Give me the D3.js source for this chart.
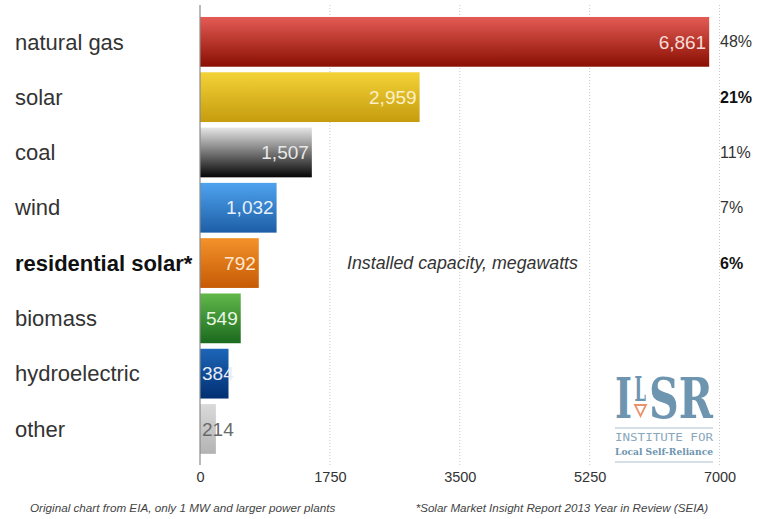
<!DOCTYPE html>
<html><head><meta charset="utf-8">
<script src="https://cdn.jsdelivr.net/npm/d3@7/dist/d3.min.js"></script>
<style>body{margin:0;background:#fff}svg{display:block}</style>
</head><body>
<svg id="chart" width="774" height="519"></svg>
<script>
const categories = ["natural gas","solar","coal","wind","residential solar*","biomass","hydroelectric","other"];
const values = [6861,2959,1507,1032,792,549,384,214];
const valueLabels = ["6,861","2,959","1,507","1,032","792","549","384","214"];
const shares = ["48%","21%","11%","7%","6%","","",""];
const boldRows = ["residential solar*"];
const boldShares = ["solar","residential solar*"];
const ticks = [0,1750,3500,5250,7000];

const gradTop = ["#e45b55","#f3d237","#e6e6e6","#4ea3ef","#f4922a","#62b84a","#1d66b8","#dadada"];
const gradBot = ["#8a0f02","#c69c0e","#050505","#1d5ea6","#c65a05","#1b6a1f","#022f72","#b3b3b3"];
const labelFill = ["#f6dcd8","#fbf0c8","#e8e8e8","#e8f0fa","#fde8d0","#eaf6e4","#e6ecf6","#6a6a6a"];

const svg = d3.select("#chart");
const x = d3.scaleLinear().domain([0,7000]).range([200,719.5]);
const y = d3.scaleBand().domain(categories).range([14.2,456.6]).paddingInner(0.1).paddingOuter(0.05);
const font = "'Liberation Sans', Arial, Helvetica, sans-serif";

const defs = svg.append("defs");
categories.forEach((c,i)=>{
  const g = defs.append("linearGradient").attr("id","g"+i).attr("x1",0).attr("y1",0).attr("x2",0).attr("y2",1);
  g.append("stop").attr("offset","0%").attr("stop-color",gradTop[i]);
  g.append("stop").attr("offset","100%").attr("stop-color",gradBot[i]);
});

// gridlines
svg.append("g").selectAll("line").data(ticks.slice(1)).join("line")
  .attr("x1",d=>x(d)).attr("x2",d=>x(d)).attr("y1",5).attr("y2",465)
  .attr("stroke","#c8c8c8").attr("stroke-width",1).attr("stroke-dasharray","1,2");

// bars
svg.append("g").selectAll("rect").data(categories).join("rect")
  .attr("x",x(0)).attr("y",d=>y(d))
  .attr("width",(d,i)=>x(values[i])-x(0)).attr("height",y.bandwidth())
  .attr("fill",(d,i)=>`url(#g${i})`);

// axis line
svg.append("line").attr("x1",x(0)).attr("x2",x(0)).attr("y1",5).attr("y2",465)
  .attr("stroke","#8a8a8a").attr("stroke-width",1.2);

// tick labels
const xAxis = d3.axisBottom(x).tickValues(ticks).tickSize(0).tickPadding(0).tickFormat(d3.format("d"));
const ax = svg.append("g").attr("transform","translate(0,469)").call(xAxis);
ax.select(".domain").remove();
ax.selectAll("text").attr("font-family",font).attr("font-size",14.5).attr("fill","#333").attr("dy","0.9em");

// category labels
svg.append("g").selectAll("text").data(categories).join("text")
  .attr("x",15).attr("y",d=>y(d)+y.bandwidth()/2).attr("dy","0.35em")
  .attr("font-family",font).attr("font-size",22)
  .attr("font-weight",d=>boldRows.includes(d)?"bold":"normal")
  .attr("fill",d=>boldRows.includes(d)?"#111":"#333")
  .text(d=>d);

// value labels
svg.append("g").selectAll("text").data(categories).join("text")
  .each(function(d,i){
    const w = x(values[i]) - x(0);
    const t = d3.select(this);
    if (w > 38) t.attr("x", x(values[i]) - 3).attr("text-anchor","end");
    else t.attr("x", x(0) + 2).attr("text-anchor","start");
  })
  .attr("y",d=>y(d)+y.bandwidth()/2).attr("dy","0.35em")
  .attr("font-family",font).attr("font-size",19)
  .attr("fill",(d,i)=>labelFill[i])
  .text((d,i)=>valueLabels[i]);

// share labels
svg.append("g").selectAll("text").data(categories).join("text")
  .attr("x",720).attr("y",d=>y(d)+y.bandwidth()/2).attr("dy","0.35em")
  .attr("font-family",font).attr("font-size",16)
  .attr("font-weight",d=>boldShares.includes(d)?"bold":"normal")
  .attr("fill",d=>boldShares.includes(d)?"#111":"#333")
  .text((d,i)=>shares[i]);

// annotation
svg.append("text").attr("x",347).attr("y",y("residential solar*")+y.bandwidth()/2).attr("dy","0.35em")
  .attr("font-family",font).attr("font-size",17.8).attr("font-style","italic").attr("fill","#333")
  .text("Installed capacity, megawatts");

// footnotes
svg.append("text").attr("x",30).attr("y",512)
  .attr("font-family",font).attr("font-size",11.7).attr("font-style","italic").attr("fill","#444")
  .text("Original chart from EIA, only 1 MW and larger power plants");
svg.append("text").attr("x",708).attr("y",512).attr("text-anchor","end")
  .attr("font-family",font).attr("font-size",11.6).attr("font-style","italic").attr("fill","#444")
  .text("*Solar Market Insight Report 2013 Year in Review (SEIA)");

// logo
const logo = svg.append("g");
const lc = "#6e95af";
const serif = "'DejaVu Serif', 'Liberation Serif', serif";
function fitText(str, x0, x1, base, size){
  const t = logo.append("text").attr("x",0).attr("y",0).attr("font-family",serif)
    .attr("font-size",size).attr("font-weight","bold").attr("fill",lc).text(str);
  let w = size * 0.6 * str.length;
  try { w = t.node().getComputedTextLength() || w; } catch(e) {}
  t.attr("transform",`translate(${x0},${base}) scale(${(x1-x0)/w},1)`);
  return t;
}
fitText("I", 615, 632, 418, 56);
fitText("L", 634.5, 646, 401, 34);
fitText("SR", 649, 713, 418, 56);
logo.append("path").attr("d","M635,405 L646,405 L640.5,416 Z")
  .attr("fill","none").attr("stroke","#e9926c").attr("stroke-width",1.8);
logo.append("line").attr("x1",615).attr("x2",713).attr("y1",428).attr("y2",428).attr("stroke","#a9bfcf").attr("stroke-width",1);
logo.append("line").attr("x1",615).attr("x2",713).attr("y1",462).attr("y2",462).attr("stroke","#a9bfcf").attr("stroke-width",1);
logo.append("text").attr("x",615).attr("y",441).attr("font-family","'DejaVu Sans Mono', monospace").attr("font-size",10)
  .attr("fill","#8aa8bd").attr("textLength",98).attr("lengthAdjust","spacingAndGlyphs").text("INSTITUTE FOR");
logo.append("text").attr("x",615).attr("y",455).attr("font-family",serif).attr("font-size",10).attr("font-weight","bold")
  .attr("fill",lc).attr("textLength",98).attr("lengthAdjust","spacingAndGlyphs").text("Local Self-Reliance");
</script>
</body></html>
